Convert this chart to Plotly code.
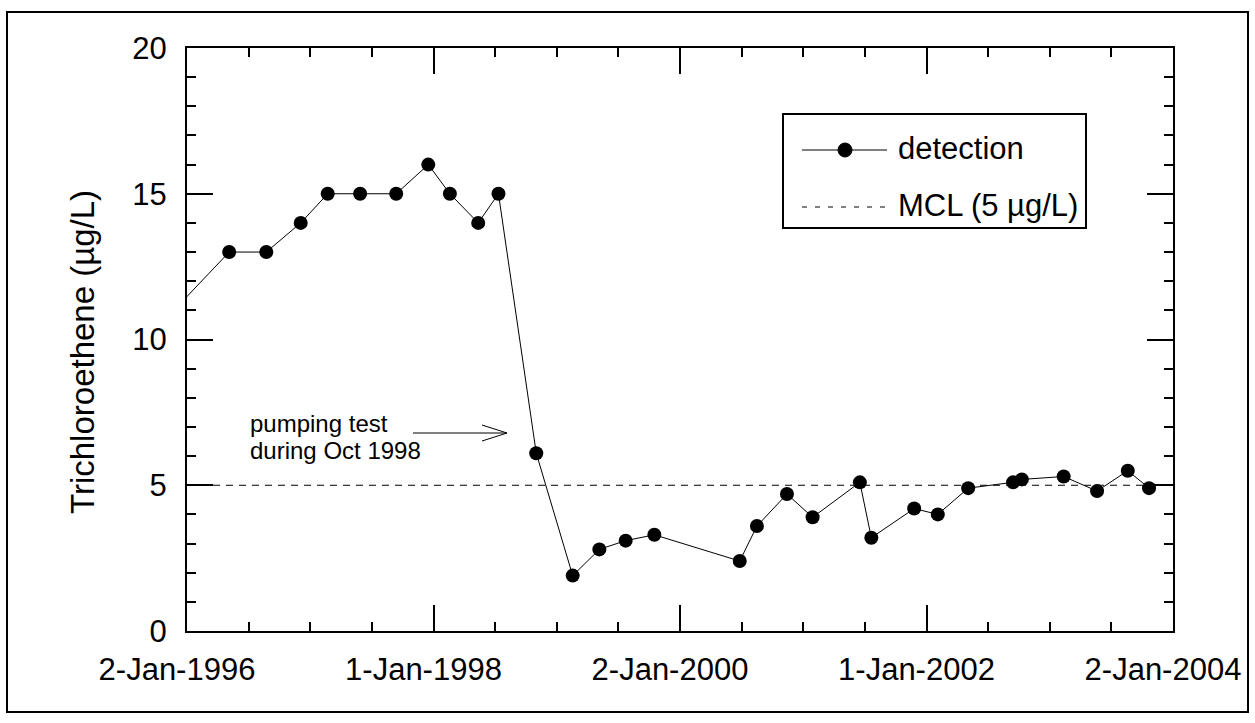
import pandas as pd
import plotly.graph_objects as go

# ---------------- data ----------------
sample_dates = [
    "1995-10-14", "1996-05-06", "1996-08-24", "1996-12-04", "1997-02-22", "1997-05-29",
    "1997-09-13", "1997-12-17", "1998-02-19", "1998-05-14", "1998-07-13",
    "1998-11-02", "1999-02-18", "1999-05-08", "1999-07-25", "1999-10-18",
    "2000-06-27", "2000-08-17", "2000-11-14", "2001-01-29", "2001-06-18",
    "2001-07-22", "2001-11-26", "2002-02-04", "2002-05-05", "2002-09-15",
    "2002-10-11", "2003-02-12", "2003-05-22", "2003-08-21", "2003-10-23",
]
tce_values = [
    10.5, 13, 13, 14, 15, 15,
    15, 16, 15, 14, 15,
    6.1, 1.9, 2.8, 3.1, 3.3,
    2.4, 3.6, 4.7, 3.9, 5.1,
    3.2, 4.2, 4.0, 4.9, 5.1,
    5.2, 5.3, 4.8, 5.5, 4.9,
]
mcl_value = 5

x_start = "1996-01-02"
x_end = "2004-01-02"
x_tick_labels = ["2-Jan-1996", "1-Jan-1998", "2-Jan-2000", "1-Jan-2002", "2-Jan-2004"]
y_range = [0, 20]

# tick positions: major every 730.5 days, minor every 182.625 days
t0 = pd.Timestamp(x_start)
major_ticks = [(t0 + pd.Timedelta(days=730.5 * k)).strftime("%Y-%m-%d %H:%M:%S") for k in range(5)]
minor_ticks = [(t0 + pd.Timedelta(days=182.625 * k)).strftime("%Y-%m-%d %H:%M:%S") for k in range(17)]

# ---------------- layout helpers (pixel -> paper) ----------------
W, H = 1255, 723
L, R, T, B = 187, 1173, 48, 631


def px(x):
    return (x - L) / (R - L)


def py(y):
    return (B - y) / (B - T)


FONT = "Liberation Sans, Arial, Helvetica, sans-serif"
FS = 31

fig = go.Figure()
fig.add_trace(go.Scatter(
    x=sample_dates, y=tce_values, mode="lines+markers",
    line=dict(color="black", width=1),
    marker=dict(color="black", size=14, symbol="circle"),
    name="detection", showlegend=False, cliponaxis=True,
))

fig.update_xaxes(
    type="date", range=[x_start, x_end],
    tickmode="array", tickvals=major_ticks, ticktext=x_tick_labels,
    ticks="inside", ticklen=26, tickwidth=2, tickcolor="black",
    showline=True, linewidth=2, linecolor="black", mirror="ticks",
    showgrid=False, zeroline=False,
    tickfont=dict(family=FONT, size=FS, color="black"),
    ticklabelshift=-10, ticklabelstandoff=10,
    minor=dict(tickmode="array", tickvals=minor_ticks, ticks="inside", ticklen=9,
               tickwidth=2, tickcolor="black", showgrid=False),
)
fig.update_yaxes(
    range=y_range, tickmode="linear", tick0=0, dtick=5,
    ticks="inside", ticklen=26, tickwidth=2, tickcolor="black",
    showline=True, linewidth=2, linecolor="black", mirror="ticks",
    showgrid=False, zeroline=False,
    tickfont=dict(family=FONT, size=FS, color="black"),
    ticklabelstandoff=12,
    minor=dict(tickmode="linear", tick0=0, dtick=1, ticks="inside", ticklen=9,
               tickwidth=2, tickcolor="black", showgrid=False),
)

shapes = [
    # MCL line across the plot at the MCL value
    dict(type="line", xref="paper", yref="y", x0=0, x1=1, y0=mcl_value, y1=mcl_value,
         line=dict(color="black", width=1, dash="7px,6px"), layer="below"),
    # outer frame
    dict(type="rect", xref="paper", yref="paper",
         x0=px(7), x1=px(1248), y0=py(712), y1=py(12),
         line=dict(color="black", width=2), layer="above"),
    # legend box
    dict(type="rect", xref="paper", yref="paper",
         x0=px(783), x1=px(1086), y0=py(228), y1=py(114),
         line=dict(color="black", width=2), fillcolor="white", layer="above"),
    # legend line 1 (detection)
    dict(type="line", xref="paper", yref="paper",
         x0=px(802), x1=px(887), y0=py(150), y1=py(150),
         line=dict(color="black", width=1)),
    dict(type="circle", xref="paper", yref="paper",
         xsizemode="pixel", ysizemode="pixel",
         xanchor=px(845), yanchor=py(150),
         x0=-7, x1=7, y0=-7, y1=7,
         fillcolor="black", line=dict(color="black", width=1)),
    # legend line 2 (MCL)
    dict(type="line", xref="paper", yref="paper",
         x0=px(802), x1=px(887), y0=py(207), y1=py(207),
         line=dict(color="black", width=1, dash="5px,8px")),
    # annotation arrow
    dict(type="line", xref="paper", yref="paper",
         x0=px(413), x1=px(507), y0=py(433), y1=py(433),
         line=dict(color="black", width=1)),
    dict(type="line", xref="paper", yref="paper",
         x0=px(482), x1=px(507), y0=py(425), y1=py(433),
         line=dict(color="black", width=1)),
    dict(type="line", xref="paper", yref="paper",
         x0=px(482), x1=px(507), y0=py(441), y1=py(433),
         line=dict(color="black", width=1)),
]

annotations = [
    dict(text="Trichloroethene (µg/L)", xref="paper", yref="paper",
         x=px(82), y=py(352), xanchor="center", yanchor="middle", textangle=-90,
         showarrow=False, font=dict(family=FONT, size=33, color="black")),
    dict(text="detection", xref="paper", yref="paper",
         x=px(896), y=py(148), xanchor="left", yanchor="middle",
         showarrow=False, font=dict(family=FONT, size=FS, color="black")),
    dict(text="MCL (5 µg/L)", xref="paper", yref="paper",
         x=px(896), y=py(206), xanchor="left", yanchor="middle",
         showarrow=False, font=dict(family=FONT, size=FS, color="black")),
    dict(text="pumping test", xref="paper", yref="paper",
         x=px(249), y=py(423), xanchor="left", yanchor="middle", borderpad=0,
         showarrow=False, font=dict(family=FONT, size=24, color="black")),
    dict(text="during Oct 1998", xref="paper", yref="paper",
         x=px(249), y=py(450.5), xanchor="left", yanchor="middle", borderpad=0,
         showarrow=False, font=dict(family=FONT, size=24, color="black")),
]

fig.update_layout(
    width=W, height=H,
    margin=dict(l=L, r=W - R, t=T, b=H - B, pad=0),
    paper_bgcolor="white", plot_bgcolor="white",
    showlegend=False,
    font=dict(family=FONT, color="black"),
)
fig.layout.shapes = shapes
fig.layout.annotations = annotations

fig.write_html(
    "out.html",
    config={"displayModeBar": False},
    post_script="document.body.style.margin='0';document.body.style.padding='0';",
)
